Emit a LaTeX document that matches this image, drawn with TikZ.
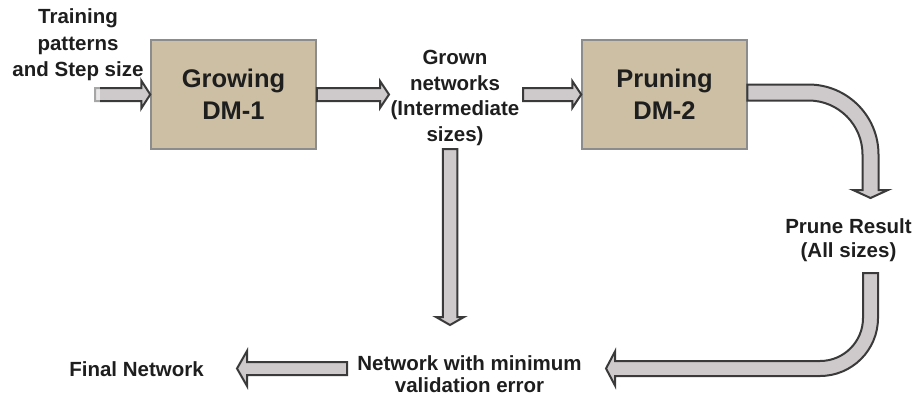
\documentclass[tikz,border=0pt]{standalone}
\usepackage{fontspec}
\setmainfont{Liberation Sans}
\usetikzlibrary{calc}

\definecolor{boxfill}{HTML}{CCBFA4}
\definecolor{boxline}{HTML}{8C8C8C}
\definecolor{arrowfill}{HTML}{CECACB}
\definecolor{arrowline}{HTML}{3A3A3A}
\definecolor{ink}{HTML}{1E1E1E}

\tikzset{
  label text/.style={font=\fontsize{20.5}{25.5}\selectfont\bfseries, text=ink,
    align=center, inner sep=0pt},
  dm box/.style={draw=boxline, line width=1.5pt, fill=boxfill,
    minimum width=165pt, minimum height=109pt, inner sep=0pt, align=center,
    font=\fontsize{25.5}{32}\selectfont\bfseries, text=ink},
  block arrow/.style={draw=arrowline, fill=arrowfill, line width=2pt,
    line join=miter},
}

% straight block arrow: #1 from, #2 to, #3 shaft half width,
% #4 head half width, #5 head length
\newcommand\blockarrow[5]{%
  \path ($(#2)!#5!(#1)$) coordinate (ba-h);
  \draw[block arrow]
    ($(#1)!#3!90:(#2)$) -- ($(ba-h)!#3!-90:(#1)$) -- ($(ba-h)!#4!-90:(#1)$)
    -- (#2) -- ($(ba-h)!#4!90:(#1)$) -- ($(ba-h)!#3!90:(#1)$)
    -- ($(#1)!#3!-90:(#2)$) -- cycle;
}

\begin{document}
\begin{tikzpicture}[x=1pt, y=-1pt]
  \useasboundingbox (0,0) rectangle (915,397);

  % processing blocks
  \node[dm box] (dm1) at (233.5,94.5) {Growing\\DM-1};
  \node[dm box] (dm2) at (664.5,94.5) {Pruning\\DM-2};

  % texts
  \node[label text, font=\fontsize{20.5}{26.5}\selectfont\bfseries]
    (train) at (78,45) {Training\\patterns\\and Step size};
  \node[label text] (grown) at (455,98) {Grown\\networks\\(Intermediate\\sizes)};
  \node[label text, font=\fontsize{20.5}{23.5}\selectfont\bfseries]
    (prune) at (848.5,240) {Prune Result\\(All sizes)};
  \node[label text, font=\fontsize{20.5}{22}\selectfont\bfseries]
    (netmin) at (469.5,374) {Network with minimum\\validation error};
  \node[label text] (final) at (136.5,369) {Final Network};

  % arrow end points
  \coordinate (in-start) at (95,94.5);
  \coordinate (grown-in) at (389,94.5);
  \coordinate (grown-out) at (523,94.5);
  \coordinate (drop-top) at (450,149);
  \coordinate (drop-end) at (450,325);
  \coordinate (final-start) at (347,368.5);
  \coordinate (final-end) at (237,368.5);

  % straight arrows
  \blockarrow{in-start}{dm1.west}{6.5pt}{14pt}{9pt}
  \fill[white, opacity=0.55] (93,86) rectangle (100,103);
  \blockarrow{dm1.east}{grown-in}{6.5pt}{13.5pt}{9pt}
  \blockarrow{grown-out}{dm2.west}{6.5pt}{13.5pt}{9pt}
  \blockarrow{drop-top}{drop-end}{7.25pt}{14pt}{8pt}
  \blockarrow{final-start}{final-end}{6.5pt}{17.5pt}{10pt}

  % bent arrow from the pruning block down to the prune result
  \draw[block arrow]
    ($(dm2.east)+(-0.5,-10)$) -- (808.5,84.5)
    arc[start angle=270, end angle=360, radius=70]
    -- (878.5,190) -- (888,190) -- (870.5,198) -- (853,190) -- (862.5,190)
    -- (862.5,154.5) arc[start angle=0, end angle=-90, radius=54]
    -- ($(dm2.east)+(-0.5,6)$) -- cycle;

  % bent arrow from the prune result to the network with minimum error
  \draw[block arrow]
    (863,273) -- (878,273) -- (878,318)
    arc[start angle=0, end angle=90, radius=58]
    -- (615,376) -- (615,385.5) -- (606,368.5) -- (615,351.5) -- (615,361)
    -- (820,361) arc[start angle=90, end angle=0, radius=43] -- cycle;
\end{tikzpicture}
\end{document}
